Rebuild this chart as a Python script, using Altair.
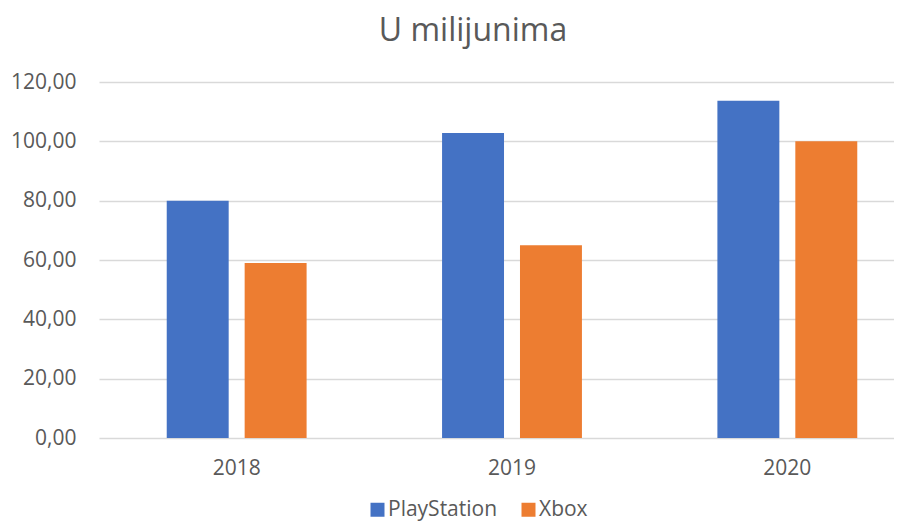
import altair as alt
import pandas as pd

years = ["2018", "2019", "2020"]
series_names = ["PlayStation", "Xbox"]
playstation = [80.0, 102.8, 113.7]
xbox = [59.0, 65.0, 100.0]
colors = ["#4472C4", "#ED7D31"]
y_ticks = [0, 20, 40, 60, 80, 100, 120]

rows = []
for i, y in enumerate(years):
    rows.append({"year": y, "series": series_names[0], "value": playstation[i]})
    rows.append({"year": y, "series": series_names[1], "value": xbox[i]})
df = pd.DataFrame(rows)

FONT = "Open Sans"
TXT = "#595959"

chart = (
    alt.Chart(df)
    .mark_bar()
    .encode(
        x=alt.X(
            "year:N",
            sort=years,
            scale=alt.Scale(range=[0, 826], paddingInner=0.492, paddingOuter=0.246),
            axis=alt.Axis(
                title=None, labelAngle=0, domain=False, ticks=False, grid=False,
                labelPadding=19, labelFontSize=21, labelFont=FONT, labelColor=TXT,
            ),
        ),
        xOffset=alt.XOffset(
            "series:N", sort=series_names,
            scale=alt.Scale(paddingInner=0.205, paddingOuter=0),
        ),
        y=alt.Y(
            "value:Q",
            scale=alt.Scale(domain=[0, 120], nice=False),
            axis=alt.Axis(
                title=None, values=y_ticks, domain=False, ticks=False,
                labelPadding=23, labelFontSize=21, labelFont=FONT, labelColor=TXT,
                labelExpr="replace(format(datum.value, '.2f'), '.', ',')",
                grid=True, gridColor="#D9D9D9", gridWidth=1.5,
            ),
        ),
        color=alt.Color(
            "series:N",
            sort=series_names,
            scale=alt.Scale(domain=series_names, range=colors),
            legend=alt.Legend(
                title=None, orient="none", legendX=268, legendY=417,
                direction="horizontal", symbolType="square", symbolSize=196,
                symbolStrokeWidth=0, labelFontSize=21, labelFont=FONT,
                labelColor=TXT, labelOffset=0, columnPadding=20, padding=0,
            ),
        ),
    )
    .properties(
        width=795,
        height=356,
        title=alt.TitleParams(
            "U milijunima", fontSize=32, font=FONT, fontWeight="normal",
            color=TXT, anchor="middle", dx=-23.5, offset=23,
        ),
        autosize=alt.AutoSizeParams(type="none"),
        padding={"left": 91, "top": 74, "right": 0, "bottom": 85},
    )
    .configure_view(stroke=None)
)

chart.save("out.html", embed_options={"renderer": "svg", "actions": False})
